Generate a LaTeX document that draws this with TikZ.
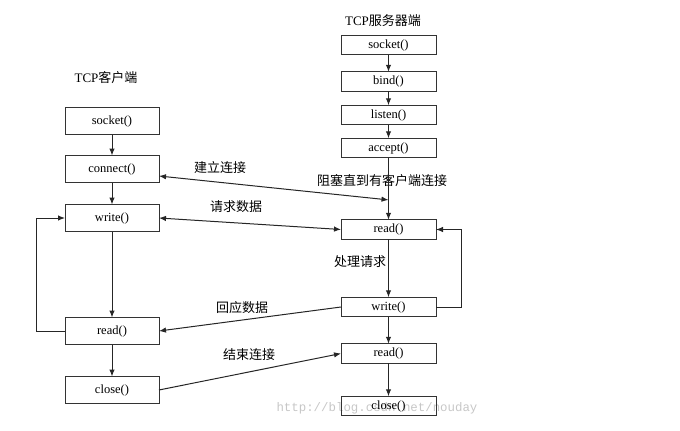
\documentclass[tikz,border=0pt]{standalone}
\usepackage{fontspec}
\setmainfont{Liberation Serif}
\newfontfamily\cjk{Noto Sans CJK SC}
\newfontfamily\wmfont{Liberation Mono}
\usepackage{xcolor}
\usetikzlibrary{arrows.meta, positioning, calc}

\begin{document}
\begin{tikzpicture}[
    x=1pt, y=-1pt,
    cbox/.style={rectangle, draw=black!80, line width=1pt, inner sep=0pt,
                 outer sep=0pt, minimum width=94pt, minimum height=27pt,
                 font=\fontsize{12.5}{14}\selectfont},
    sbox/.style={cbox, minimum width=95pt, minimum height=19.5pt},
    lbl/.style={font=\fontsize{13}{15}\selectfont\cjk, inner sep=0pt},
    arr/.style={-{Latex[length=7pt,width=5.5pt]}, line width=1pt, color=black!85}
]
\useasboundingbox (0,0) rectangle (680,431);

% watermark
\node[font=\fontsize{12.4}{14}\wmfont, text=black!22] (wm) at (377,408)
    {http://blog.csdn.net/nouday};

% client side
\node[font=\fontsize{13}{15}\selectfont, inner sep=0pt] (ctitle) at (106,78)
    {TCP{\cjk 客户端}};
\node[cbox] (csock) at (112,121) {socket()};
\node[cbox, below=21pt of csock] (cconn) {connect()};
\node[cbox, below=22pt of cconn] (cwrite) {write()};
\node[cbox, below=86pt of cwrite] (cread) {read()};
\node[cbox, below=32pt of cread] (cclose) {close()};

% server side
\node[font=\fontsize{13}{15}\selectfont, inner sep=0pt] (stitle) at (383,21)
    {TCP{\cjk 服务器端}};
\node[sbox] (ssock) at (388.5,45) {socket()};
\node[sbox, below=17pt of ssock] (sbind) {bind()};
\node[sbox, below=14pt of sbind] (slisten) {listen()};
\node[sbox, below=13.5pt of slisten] (saccept) {accept()};
\node[sbox, below=62pt of saccept] (sread) {read()};
\node[sbox, below=58pt of sread] (swrite) {write()};
\node[sbox, below=27pt of swrite] (sread2) {read()};
\node[sbox, below=33pt of sread2] (sclose) {close()};

\coordinate (blk) at ($(saccept.south)!0.68!(sread.north)$);

% labels
\node[lbl] (lblk)  at (382,181) {阻塞直到有客户端连接};
\node[lbl] (lproc) at (360,262) {处理请求};
\node[lbl] (lconn) at (220,168) {建立连接};
\node[lbl] (lreq)  at (236,207) {请求数据};
\node[lbl] (lresp) at (242,308) {回应数据};
\node[lbl] (lend)  at (249,355) {结束连接};

% client flow
\draw[arr] (csock)  -- (cconn);
\draw[arr] (cconn)  -- (cwrite);
\draw[arr] (cwrite) -- (cread);
\draw[arr] (cread)  -- (cclose);
\draw[arr] (cread.west) -- ++(-29,0) |- (cwrite.west);

% server flow
\draw[arr] (ssock)   -- (sbind);
\draw[arr] (sbind)   -- (slisten);
\draw[arr] (slisten) -- (saccept);
\draw[arr] (saccept) -- (sread);
\draw[arr] (sread)   -- (swrite);
\draw[arr] (swrite)  -- (sread2);
\draw[arr] (sread2)  -- (sclose);
\draw[arr] (swrite.east) -- ++(25,0) |- (sread.east);

% between the two
\draw[arr, {Latex[length=7pt,width=5.5pt]}-{Latex[length=7pt,width=5.5pt]}]
    ([yshift=-7pt]cconn.east) -- (blk);
\draw[arr, {Latex[length=7pt,width=5.5pt]}-{Latex[length=7pt,width=5.5pt]}]
    (cwrite.east) -- (sread.west);
\draw[arr] (swrite.west) -- (cread.east);
\draw[arr] (cclose.east) -- (sread2.west);

\end{tikzpicture}
\end{document}
